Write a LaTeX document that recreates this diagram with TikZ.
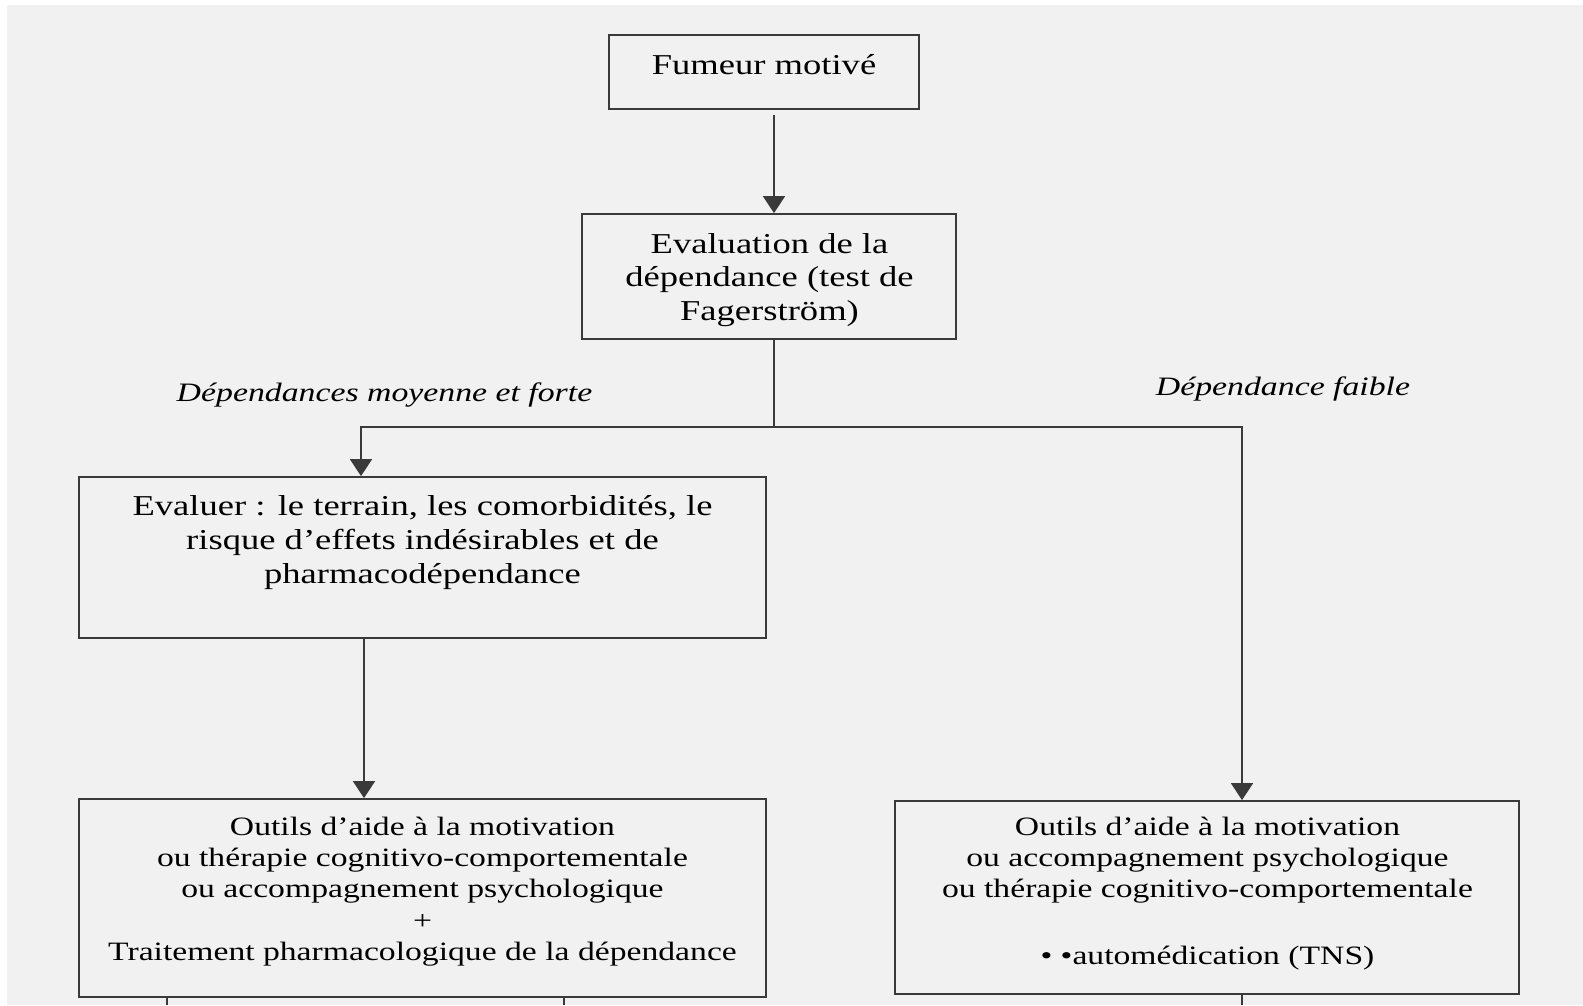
\documentclass[tikz,border=0pt]{standalone}
\usepackage{fontspec}
\setmainfont{Liberation Serif}
\newfontfamily\diagfont[FakeStretch=1.27]{Liberation Serif}
\usetikzlibrary{arrows.meta}
\definecolor{bggray}{HTML}{F1F1F1}
\definecolor{linegray}{HTML}{3A3A3A}
\tikzset{
  box/.style={draw=linegray, line width=1.8pt, rectangle, inner sep=0pt},
  conn/.style={draw=linegray, line width=1.8pt},
  arr/.style={conn, -{Triangle[width=22pt,length=17pt]}},
  bigtxt/.style={align=center, inner sep=0pt, font=\diagfont\fontsize{28.8}{33.5}\selectfont},
  smalltxt/.style={align=center, inner sep=0pt, font=\diagfont\fontsize{26.5}{31.25}\selectfont},
  lbl/.style={inner sep=0pt, anchor=base, font=\diagfont\itshape\fontsize{26.6}{30}\selectfont}
}
\begin{document}
\begin{tikzpicture}[x=1pt,y=-1pt]
\useasboundingbox (0,0) rectangle (1583,1005);
\fill[bggray] (7,5) rectangle (1583,1005);

% boxes
\node[box, minimum width=310pt, minimum height=74pt]  (b1) at (764,72) {};
\node[box, minimum width=374pt, minimum height=125pt] (b2) at (769,276.5) {};
\node[box, minimum width=687pt, minimum height=161pt] (b3) at (422.5,557.5) {};
\node[box, minimum width=687pt, minimum height=198pt] (b4) at (422.5,898) {};
\node[box, minimum width=624pt, minimum height=193pt] (b5) at (1207,897.5) {};

% texts
\node[bigtxt, anchor=base] (t1) at (764,74.5) {Fumeur motivé};
\node[bigtxt] (t2) at (769.5,280) {Evaluation de la\\dépendance (test de\\Fagerström)};
\node[bigtxt, font=\diagfont\fontsize{28.8}{34}\selectfont] (t3) at (422.5,542.5)
  {Evaluer : le terrain, les comorbidités, le\\risque d’effets indésirables et de\\pharmacodépendance};
\node[smalltxt] (t4) at (422.5,891.5)
  {Outils d’aide à la motivation\\ou thérapie cognitivo-comportementale\\ou accompagnement psychologique\\+\\Traitement pharmacologique de la dépendance};
\node[smalltxt] (t5) at (1207.5,893.5)
  {Outils d’aide à la motivation\\ou accompagnement psychologique\\ou thérapie cognitivo-comportementale\\[36pt]• •automédication (TNS)};

% labels
\node[lbl] (l1) at (384.5,401) {Dépendances moyenne et forte};
\node[lbl] (l2) at (1283,395) {Dépendance faible};

% connectors
\coordinate (split) at (774,427);
\coordinate (jl) at (361,427);
\coordinate (jr) at (1242,427);
\draw[arr] ([xshift=10pt,yshift=-5pt]b1.south) -- ([xshift=5pt]b2.north);
\draw[conn] (b2.south -| split) -- (split);
\draw[arr] (split) -- (jl) -- (jl |- b3.north);
\draw[arr] (split) -- (jr) -- (jr |- b5.north);
\draw[arr] ([xshift=-58.5pt]b3.south) -- ([xshift=-58.5pt]b4.north);

% stubs leaving the bottom edge
\coordinate (s1) at (167,1005);
\coordinate (s2) at (564,1005);
\coordinate (s3) at (1242,1005);
\draw[conn] (b4.south -| s1) -- (s1);
\draw[conn] (b4.south -| s2) -- (s2);
\draw[conn] (b5.south -| s3) -- (s3);
\end{tikzpicture}
\end{document}
